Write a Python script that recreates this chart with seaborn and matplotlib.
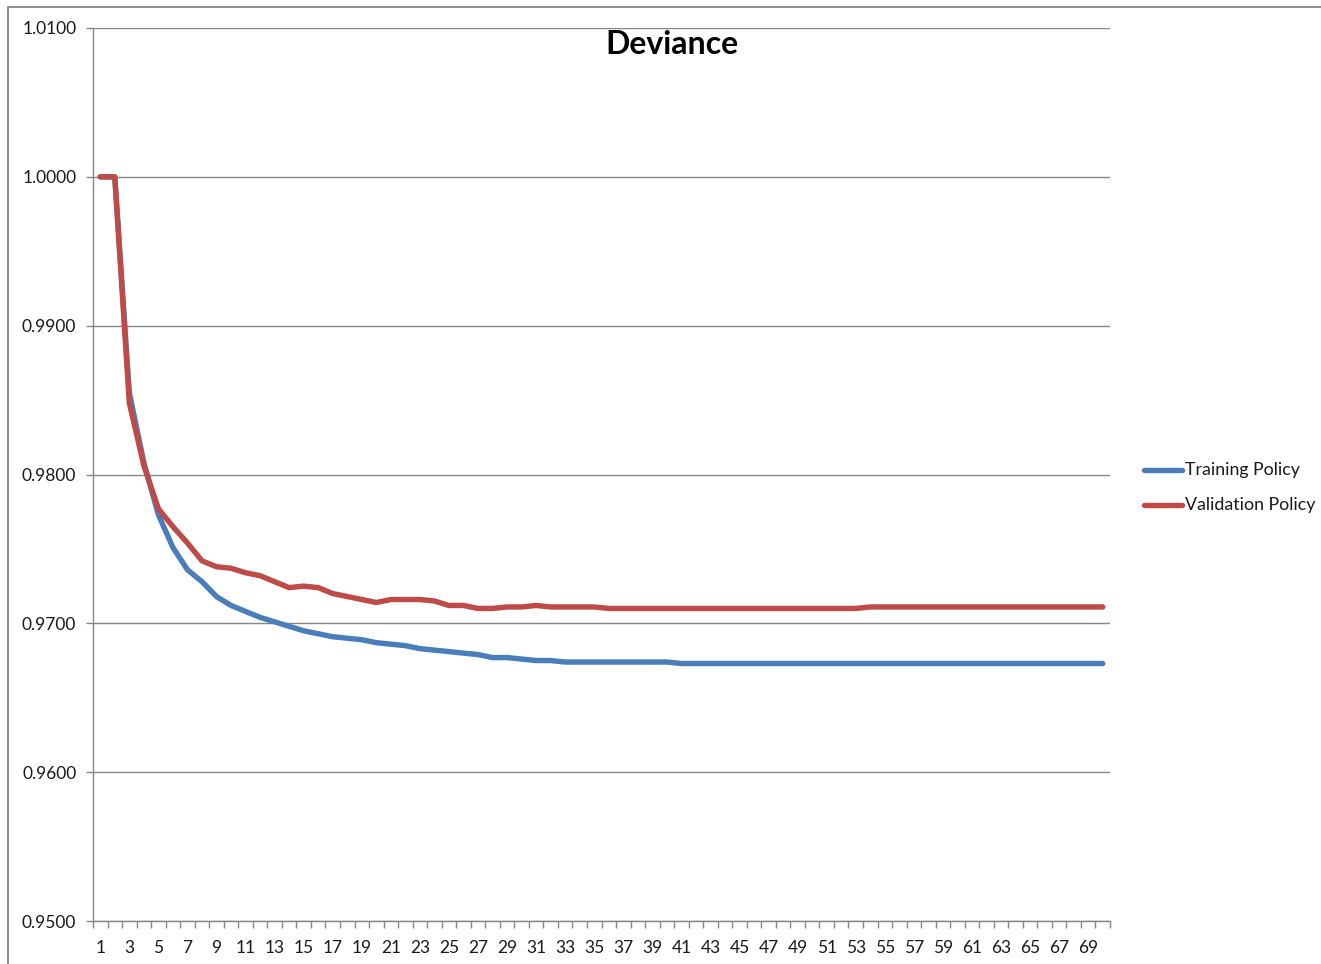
import numpy as np
import pandas as pd
import matplotlib
matplotlib.use("Agg")
import matplotlib.pyplot as plt
from matplotlib.patches import Rectangle
from matplotlib.ticker import FixedLocator, NullFormatter
import seaborn as sns

# Iterations 1..70
iterations = list(range(1, 71))

training_policy = [
    1.0000, 1.0000, 0.9855, 0.9808, 0.9773, 0.9751, 0.9736, 0.9728, 0.9718, 0.9712,
    0.9708, 0.9704, 0.9701, 0.9698, 0.9695, 0.9693, 0.9691, 0.9690, 0.9689, 0.9687,
    0.9686, 0.9685, 0.9683, 0.9682, 0.9681, 0.9680, 0.9679, 0.9677, 0.9677, 0.9676,
    0.9675, 0.9675, 0.9674, 0.9674, 0.9674, 0.9674, 0.9674, 0.9674, 0.9674, 0.9674,
    0.9673, 0.9673, 0.9673, 0.9673, 0.9673, 0.9673, 0.9673, 0.9673, 0.9673, 0.9673,
    0.9673, 0.9673, 0.9673, 0.9673, 0.9673, 0.9673, 0.9673, 0.9673, 0.9673, 0.9673,
    0.9673, 0.9673, 0.9673, 0.9673, 0.9673, 0.9673, 0.9673, 0.9673, 0.9673, 0.9673,
]

validation_policy = [
    1.0000, 1.0000, 0.9848, 0.9806, 0.9777, 0.9765, 0.9754, 0.9742, 0.9738, 0.9737,
    0.9734, 0.9732, 0.9728, 0.9724, 0.9725, 0.9724, 0.9720, 0.9718, 0.9716, 0.9714,
    0.9716, 0.9716, 0.9716, 0.9715, 0.9712, 0.9712, 0.9710, 0.9710, 0.9711, 0.9711,
    0.9712, 0.9711, 0.9711, 0.9711, 0.9711, 0.9710, 0.9710, 0.9710, 0.9710, 0.9710,
    0.9710, 0.9710, 0.9710, 0.9710, 0.9710, 0.9710, 0.9710, 0.9710, 0.9710, 0.9710,
    0.9710, 0.9710, 0.9710, 0.9711, 0.9711, 0.9711, 0.9711, 0.9711, 0.9711, 0.9711,
    0.9711, 0.9711, 0.9711, 0.9711, 0.9711, 0.9711, 0.9711, 0.9711, 0.9711, 0.9711,
]

series_names = ["Training Policy", "Validation Policy"]
series_colors = ["#4A7EBB", "#BE4B48"]

y_ticks = [0.95, 0.96, 0.97, 0.98, 0.99, 1.00, 1.01]

df = pd.DataFrame({
    "pos": list(range(len(iterations))) * 2,
    "deviance": training_policy + validation_policy,
    "series": [series_names[0]] * len(iterations) + [series_names[1]] * len(iterations),
})

sns.set_style("white")
plt.rcParams["font.family"] = ["Lato", "DejaVu Sans"]

axis_grey = "#868686"
text_col = "#1a1a1a"

fig = plt.figure(figsize=(13.21, 9.64), dpi=100)
W, H = 1321, 964
ax = fig.add_axes([93 / W, 1 - 921 / H, (1110 - 93) / W, (921 - 28) / H])

# outer chart-area border
fig.patches.append(Rectangle((8 / W, -0.05), 1.2, 1 - 7 / H + 0.05,
                             transform=fig.transFigure, fill=False,
                             edgecolor=axis_grey, linewidth=1.3))

sns.lineplot(data=df, x="pos", y="deviance", hue="series",
             hue_order=series_names, palette=series_colors,
             linewidth=3.9, ax=ax, legend=False, sort=False,
             solid_capstyle="round", solid_joinstyle="round")

n = len(iterations)
ax.set_xlim(-0.5, n - 0.5)
ax.set_ylim(0.95, 1.01)

# y axis
ax.set_yticks(y_ticks)
ax.set_yticklabels([f"{v:.4f}" for v in y_ticks], fontsize=12.5, color=text_col)
ax.yaxis.grid(True, color=axis_grey, linewidth=1.0)
ax.tick_params(axis="y", length=5, width=1, color=axis_grey, pad=7, left=True)

# x axis: labels on odd iterations, tick marks at category boundaries
ax.set_xticks(list(range(0, n, 2)))
ax.set_xticklabels([str(v) for v in iterations[::2]], fontsize=12.5, color=text_col)
ax.tick_params(axis="x", which="major", length=0, pad=14)
ax.xaxis.set_minor_locator(FixedLocator(np.arange(-0.5, n, 1.0)))
ax.xaxis.set_minor_formatter(NullFormatter())
ax.tick_params(axis="x", which="minor", length=5, width=1, color=axis_grey, bottom=True)

for side in ["top", "right"]:
    ax.spines[side].set_visible(False)
for side in ["left", "bottom"]:
    ax.spines[side].set_color(axis_grey)
    ax.spines[side].set_linewidth(1.0)

ax.set_xlabel("")
ax.set_ylabel("")

fig.text(672 / W, 1 - 45 / H, "Deviance", ha="center", va="center",
         fontsize=23, fontweight="bold", color="black")

# legend at right
for i, (name, col) in enumerate(zip(series_names, series_colors)):
    yy = 1 - (470 + 35 * i) / H
    fig.add_artist(plt.Line2D([1144 / W, 1182 / W], [yy, yy], transform=fig.transFigure,
                              color=col, linewidth=3.9, solid_capstyle="round"))
    fig.text(1185 / W, yy, name, ha="left", va="center", fontsize=12.8, color=text_col)

fig.savefig("out.png", dpi=100)
